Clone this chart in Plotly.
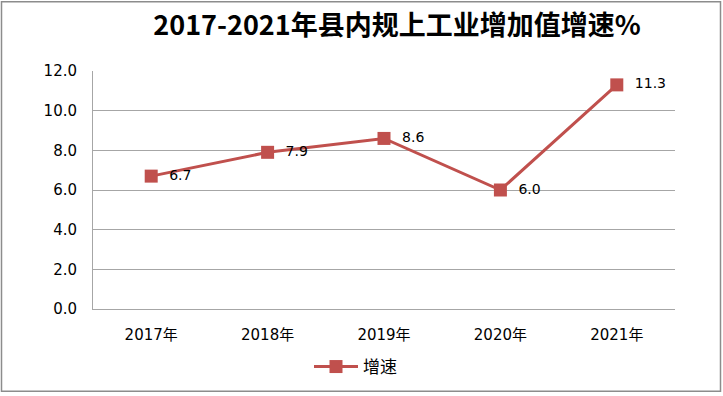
import plotly.graph_objects as go

categories = ["2017年", "2018年", "2019年", "2020年", "2021年"]
values = [6.7, 7.9, 8.6, 6.0, 11.3]
value_labels = ["6.7", "7.9", "8.6", "6.0", "11.3"]
y_tick_vals = [0, 2, 4, 6, 8, 10, 12]
y_tick_text = ["0.0", "2.0", "4.0", "6.0", "8.0", "10.0", "12.0"]
series_name = "增速"
title_text = "2017-2021年县内规上工业增加值增速%"

RED = "#C0504D"
FONT = "DejaVu Sans, Noto Sans CJK SC, sans-serif"

W, H = 723, 396
L, R, T, B = 93, 48, 71, 86
pw, ph = W - L - R, H - T - B

def px_x(x):
    return (x - L) / pw

def px_y(y):
    return (H - B - y) / ph

fig = go.Figure()
fig.add_trace(go.Scatter(
    x=categories, y=values, name=series_name,
    mode="lines+markers+text",
    line=dict(color=RED, width=3),
    marker=dict(symbol="square", size=13, color=RED),
    text=["  " + t for t in value_labels], textposition="middle right",
    textfont=dict(family=FONT, size=14, color="#000000"),
    cliponaxis=False,
))

fig.update_layout(
    width=W, height=H,
    margin=dict(l=L, r=R, t=T, b=B),
    paper_bgcolor="white", plot_bgcolor="white",
    title=dict(text="<b>" + title_text + "</b>", x=397 / W, xanchor="center",
               y=1 - 26 / H, yanchor="middle", yref="container",
               font=dict(family="Noto Sans CJK SC, sans-serif", size=27, color="#000000")),
    xaxis=dict(type="category", showgrid=False, showline=True, linecolor="#A6A6A6",
               linewidth=1, ticks="", tickfont=dict(family=FONT, size=15, color="#000000"),
               ticklabelstandoff=12, fixedrange=True, range=[-0.5, 4.5]),
    yaxis=dict(range=[0, 12], tickvals=y_tick_vals, ticktext=y_tick_text,
               showgrid=True, gridcolor="#A6A6A6", gridwidth=1, zeroline=False,
               showline=True, linecolor="#A6A6A6", linewidth=1, ticks="",
               tickfont=dict(family=FONT, size=15, color="#000000"),
               ticklabelstandoff=12, fixedrange=True),
    showlegend=True,
    legend=dict(orientation="h", x=px_x(309), xanchor="left", y=px_y(367), yanchor="middle",
                itemwidth=44,
                font=dict(family=FONT, size=17, color="#000000"), bgcolor="rgba(0,0,0,0)"),
    shapes=[dict(type="rect", xref="paper", yref="paper",
                 x0=px_x(1.5), x1=px_x(720.5), y0=px_y(392.5), y1=px_y(1.5),
                 line=dict(color="#8C8C8C", width=1.5), fillcolor="rgba(0,0,0,0)", layer="below")],
)

fig.write_html("out.html", config={"displayModeBar": False},
               post_script="document.body.style.margin='0';")
